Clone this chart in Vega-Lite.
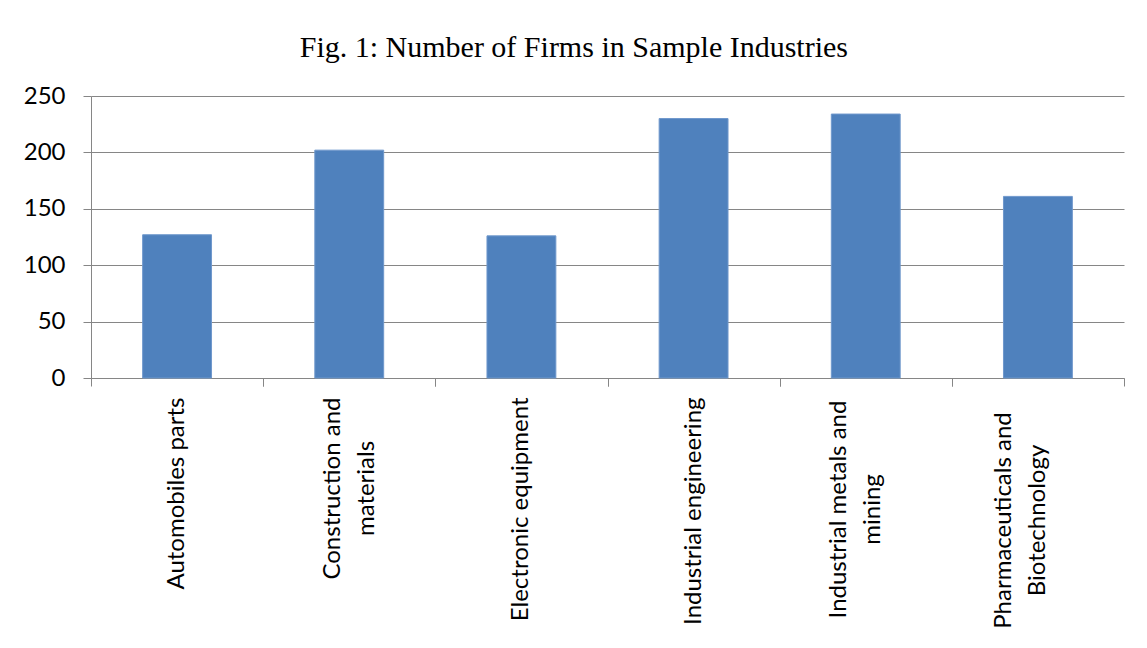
{
  "$schema": "https://vega.github.io/schema/vega-lite/v6.json",
  "width": 1033,
  "height": 282,
  "autosize": {"type": "none"},
  "padding": {"left": 91, "top": 96, "right": 23, "bottom": 270},
  "background": "white",
  "title": {
    "text": "Fig. 1: Number of Firms in Sample Industries",
    "font": "Liberation Serif",
    "fontSize": 30,
    "fontWeight": "normal",
    "color": "black",
    "anchor": "middle",
    "frame": "bounds",
    "offset": 21
  },
  "data": {
    "values": [
      {"industry": "Automobiles parts", "firms": 127},
      {"industry": "Construction and materials", "firms": 202},
      {"industry": "Electronic equipment", "firms": 126},
      {"industry": "Industrial engineering", "firms": 230},
      {"industry": "Industrial metals and mining", "firms": 234},
      {"industry": "Pharmaceuticals and Biotechnology", "firms": 161}
    ]
  },
  "encoding": {
    "y": {
      "field": "firms",
      "type": "quantitative",
      "scale": {"domain": [0, 250], "nice": false},
      "axis": {
        "title": null,
        "values": [0, 50, 100, 150, 200, 250],
        "labelFont": "Lato",
        "labelFontSize": 24,
        "labelColor": "black",
        "labelPadding": 18,
        "tickSize": 8,
        "tickColor": "#868686",
        "domainColor": "#868686",
        "gridColor": "#868686",
        "gridOpacity": 1
      }
    }
  },
  "layer": [
    {
      "mark": {"type": "bar", "color": "#4F81BD", "stroke": "#6f98cc", "strokeWidth": 1},
      "encoding": {
        "x": {
          "field": "industry",
          "type": "nominal",
          "sort": null,
          "scale": {"paddingInner": 0.6, "paddingOuter": 0.3},
          "axis": {
            "orient": "bottom",
            "title": null,
            "labelAngle": -90,
            "labelFont": "Lato",
            "labelFontSize": 24,
            "labelColor": "black",
            "labelLimit": 500,
            "labelLineHeight": 34,
            "labelAlign": {"condition": {"test": "indexof(datum.value, ' and ') >= 0", "value": "center"}, "value": "right"},
            "labelOffset": {"condition": [
              {"test": "datum.value == 'Construction and materials'", "value": -16},
              {"test": "datum.value == 'Industrial metals and mining'", "value": -27},
              {"test": "datum.value == 'Pharmaceuticals and Biotechnology'", "value": -34}
            ], "value": 0},
            "labelPadding": {"condition": [
              {"test": "datum.value == 'Construction and materials'", "value": 110},
              {"test": "datum.value == 'Industrial metals and mining'", "value": 131},
              {"test": "datum.value == 'Pharmaceuticals and Biotechnology'", "value": 142}
            ], "value": 19},
            "labelExpr": "datum.value == 'Construction and materials' ? ['Construction and', 'materials'] : datum.value == 'Industrial metals and mining' ? ['Industrial metals and', 'mining'] : datum.value == 'Pharmaceuticals and Biotechnology' ? ['Pharmaceuticals and', 'Biotechnology'] : datum.label",
            "ticks": false,
            "domainColor": "#868686",
            "grid": false
          }
        }
      }
    },
    {
      "mark": {"type": "bar", "opacity": 0},
      "encoding": {
        "x": {
          "field": "industry",
          "type": "nominal",
          "sort": null,
          "axis": {
            "orient": "bottom",
            "title": null,
            "labels": false,
            "domain": false,
            "grid": false,
            "bandPosition": 0,
            "tickOffset": -51.65,
            "tickSize": 8,
            "tickColor": "#868686"
          }
        }
      }
    },
    {
      "mark": {"type": "bar", "opacity": 0},
      "encoding": {
        "x": {
          "field": "industry",
          "type": "nominal",
          "sort": null,
          "axis": {
            "orient": "bottom",
            "title": null,
            "labels": false,
            "domain": false,
            "grid": false,
            "bandPosition": 1,
            "tickOffset": 51.65,
            "tickSize": 8,
            "tickColor": "#868686"
          }
        }
      }
    }
  ],
  "resolve": {"axis": {"x": "independent"}},
  "config": {
    "view": {"stroke": null}
  }
}
